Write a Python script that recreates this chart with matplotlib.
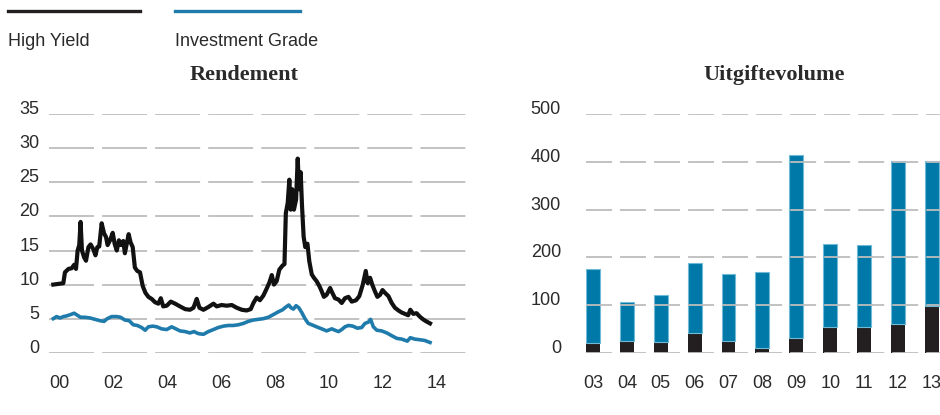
import numpy as np
import matplotlib.pyplot as plt
from matplotlib.lines import Line2D

plt.rcParams['font.family'] = ['Liberation Sans', 'DejaVu Sans']
plt.rcParams['lines.scale_dashes'] = False

# Rendement (%), jaren als decimale tijd
hy_jaar = [1999.79, 1999.98, 2000.16, 2000.22, 2000.35, 2000.47, 2000.56, 2000.63, 2000.69, 2000.75,
           2000.80, 2000.85, 2000.93, 2001.00, 2001.09, 2001.17, 2001.27, 2001.35, 2001.42, 2001.49,
           2001.58, 2001.67, 2001.74, 2001.80, 2001.89, 2001.99, 2002.06, 2002.14, 2002.22, 2002.30,
           2002.38, 2002.44, 2002.51, 2002.58, 2002.65, 2002.73, 2002.81, 2002.90, 2003.00, 2003.10,
           2003.20, 2003.31, 2003.43, 2003.56, 2003.68, 2003.77, 2003.86, 2003.99, 2004.14, 2004.30,
           2004.48, 2004.67, 2004.85, 2004.98, 2005.10, 2005.20, 2005.35, 2005.53, 2005.72, 2005.84,
           2006.02, 2006.21, 2006.40, 2006.58, 2006.77, 2006.95, 2007.10, 2007.20, 2007.32, 2007.44,
           2007.57, 2007.69, 2007.79, 2007.88, 2007.96, 2008.06, 2008.16, 2008.28, 2008.35, 2008.40,
           2008.47, 2008.53, 2008.58, 2008.64, 2008.70, 2008.78, 2008.84, 2008.89, 2008.95, 2009.00,
           2009.06, 2009.12, 2009.20, 2009.27, 2009.36, 2009.44, 2009.54, 2009.64, 2009.73, 2009.81,
           2009.91, 2010.04, 2010.12, 2010.22, 2010.35, 2010.47, 2010.59, 2010.72, 2010.84, 2011.00,
           2011.12, 2011.25, 2011.36, 2011.43, 2011.52, 2011.60, 2011.70, 2011.79, 2011.89, 2011.98,
           2012.07, 2012.20, 2012.32, 2012.44, 2012.57, 2012.69, 2012.81, 2012.93, 2013.01, 2013.12,
           2013.24, 2013.36, 2013.48, 2013.60, 2013.74]
hy_rend = [10.0, 10.1, 10.2, 11.8, 12.3, 12.4, 12.9, 12.3, 15.0, 15.8,
           19.2, 15.0, 14.0, 13.5, 15.5, 15.9, 15.2, 14.3, 15.5, 15.6,
           19.0, 17.5, 17.0, 15.8, 16.5, 17.6, 16.0, 15.0, 16.5, 15.8,
           16.4, 14.6, 16.0, 17.4, 16.2, 15.5, 12.5, 12.0, 11.8, 9.8,
           8.8, 8.2, 7.9, 7.4, 7.2, 8.0, 6.8, 6.9, 7.5, 7.2,
           6.8, 6.4, 6.3, 6.6, 7.9, 6.6, 6.3, 6.7, 7.2, 6.8,
           7.0, 6.9, 7.0, 6.6, 6.3, 6.2, 6.4, 7.3, 8.1, 7.7,
           8.4, 9.4, 10.3, 11.4, 10.0, 10.5, 12.2, 12.8, 13.0, 20.5,
           22.0, 25.4, 21.0, 24.0, 21.0, 22.5, 28.5, 24.0, 26.5, 21.5,
           17.0, 15.5, 16.0, 13.4, 11.5, 11.0, 10.5, 9.8, 9.0, 8.2,
           8.5, 9.5, 8.8, 8.0, 7.8, 7.3, 8.0, 8.2, 7.5, 7.7,
           8.3, 10.0, 12.0, 10.2, 11.0, 10.0, 9.0, 8.2, 8.5, 9.2,
           8.8, 8.3, 7.3, 6.6, 6.2, 5.9, 5.7, 5.5, 6.3, 5.7,
           5.8, 5.3, 4.9, 4.6, 4.3]

ig_jaar = [1999.79, 1999.91, 2000.04, 2000.16, 2000.28, 2000.43, 2000.56, 2000.68, 2000.80, 2000.96,
           2001.15, 2001.33, 2001.52, 2001.67, 2001.79, 2001.95, 2002.14, 2002.28, 2002.44, 2002.60,
           2002.75, 2002.90, 2003.06, 2003.19, 2003.31, 2003.47, 2003.62, 2003.80, 2003.99, 2004.17,
           2004.33, 2004.48, 2004.67, 2004.85, 2005.00, 2005.16, 2005.35, 2005.53, 2005.72, 2005.90,
           2006.09, 2006.27, 2006.46, 2006.64, 2006.83, 2007.01, 2007.20, 2007.38, 2007.57, 2007.75,
           2007.94, 2008.12, 2008.28, 2008.40, 2008.51, 2008.59, 2008.68, 2008.78, 2008.88, 2008.99,
           2009.11, 2009.23, 2009.36, 2009.54, 2009.73, 2009.91, 2010.10, 2010.22, 2010.35, 2010.47,
           2010.59, 2010.72, 2010.88, 2011.05, 2011.21, 2011.33, 2011.46, 2011.54, 2011.64, 2011.77,
           2011.95, 2012.14, 2012.32, 2012.51, 2012.69, 2012.90, 2013.01, 2013.17, 2013.36, 2013.54,
           2013.74]
ig_rend = [5.0, 5.3, 5.1, 5.3, 5.4, 5.6, 5.8, 5.5, 5.2, 5.2,
           5.1, 4.9, 4.7, 4.6, 5.0, 5.3, 5.3, 5.2, 4.8, 4.7,
           4.1, 4.0, 3.7, 3.3, 3.8, 3.9, 3.8, 3.5, 3.4, 3.8,
           3.5, 3.2, 3.1, 2.9, 3.1, 2.8, 2.7, 3.1, 3.4, 3.7,
           3.9, 4.0, 4.0, 4.1, 4.3, 4.6, 4.8, 4.9, 5.0, 5.2,
           5.6, 6.0, 6.3, 6.7, 7.0, 6.6, 6.4, 6.9, 6.6, 5.9,
           5.0, 4.3, 4.1, 3.8, 3.5, 3.2, 3.5, 3.3, 3.1, 3.4,
           3.8, 4.0, 3.9, 3.6, 3.7, 4.3, 4.5, 4.9, 3.8, 3.3,
           3.2, 2.9, 2.5, 2.1, 2.0, 1.7, 2.2, 2.0, 1.9, 1.8,
           1.5]

# Uitgiftevolume
jaren = ['03', '04', '05', '06', '07', '08', '09', '10', '11', '12', '13']
totaal = [175, 107, 120, 188, 166, 170, 415, 228, 225, 402, 402]
high_yield = [20, 25, 22, 42, 24, 9, 30, 53, 53, 61, 97]
investment_grade = [t - h for t, h in zip(totaal, high_yield)]

zwart = '#231f20'
blauw = '#0079a8'
lijnblauw = '#1f7bab'
tekst = '#2a2a2a'
raster = '#bdbdbd'

fig = plt.figure(figsize=(9.4, 4.15), dpi=100)

# Legenda bovenaan
fig.add_artist(Line2D([8/940, 140/940], [0.9735, 0.9735], color=zwart, lw=2.4))
fig.add_artist(Line2D([175/940, 300/940], [0.9735, 0.9735], color=lijnblauw, lw=2.4))
fig.text(8/940, 0.899, 'High Yield', fontsize=13, color=tekst, va='center', ha='left')
fig.text(175/940, 0.899, 'Investment Grade', fontsize=13, color=tekst, va='center', ha='left')

onder = 1 - 352.7/415
hoogte = (352.7 - 114.3)/415

# Linker grafiek: rendement
ax1 = fig.add_axes([49/940, onder, (470 - 49)/940, hoogte])
ax1.set_xlim(1999.63, 2015.22)
ax1.set_ylim(0, 35)
ax1.set_yticks(range(0, 36, 5))
ax1.set_xticks(range(2000, 2015, 2))
ax1.set_xticklabels(['00', '02', '04', '06', '08', '10', '12', '14'])
ax1.grid(axis='y', color=raster, lw=1.3, linestyle=(0, (32.4, 5.8)))
ax1.set_axisbelow(True)
ax1.plot(ig_jaar, ig_rend, color=lijnblauw, lw=2.6, clip_on=False, solid_joinstyle='round')
ax1.plot(hy_jaar, hy_rend, color='#111111', lw=3.0, clip_on=False, solid_joinstyle='round')
ax1.tick_params(axis='x', length=0, pad=16, labelsize=13, colors=tekst)
ax1.tick_params(axis='y', length=0, pad=7, labelsize=13, colors=tekst)
for lbl in ax1.get_yticklabels():
    lbl.set_va('baseline')
for s in ax1.spines.values():
    s.set_visible(False)
fig.text(244/940, 1 - 75/415, 'Rendement', family=['Liberation Serif'], fontweight='bold',
         fontsize=16, color=tekst, ha='center', va='center')

# Rechter grafiek: uitgiftevolume
ax2 = fig.add_axes([586/940, onder, 1 - 586/940, hoogte])
x = np.arange(len(jaren))
ax2.bar(x, high_yield, width=0.41, color=zwart, zorder=1)
ax2.bar(x, investment_grade, bottom=high_yield, width=0.41, color=blauw,
        edgecolor='#6fbad6', linewidth=0.8, zorder=1)
ax2.set_xlim(-0.206, 10.24)
ax2.set_ylim(0, 500)
ax2.set_yticks(range(0, 501, 100))
ax2.set_xticks(x)
ax2.set_xticklabels(jaren)
ax2.grid(axis='y', color=raster, lw=1.3, linestyle=(0, (18.7, 5.8)), zorder=2)
ax2.set_axisbelow(False)
ax2.tick_params(axis='x', length=0, pad=16, labelsize=13, colors=tekst)
ax2.tick_params(axis='y', length=0, pad=18, labelsize=13, colors=tekst)
for lbl in ax2.get_yticklabels():
    lbl.set_va('baseline')
for s in ax2.spines.values():
    s.set_visible(False)
fig.text(774.5/940, 1 - 75/415, 'Uitgiftevolume', family=['Liberation Serif'], fontweight='bold',
         fontsize=16, color=tekst, ha='center', va='center')

fig.savefig('out.png', dpi=100)
